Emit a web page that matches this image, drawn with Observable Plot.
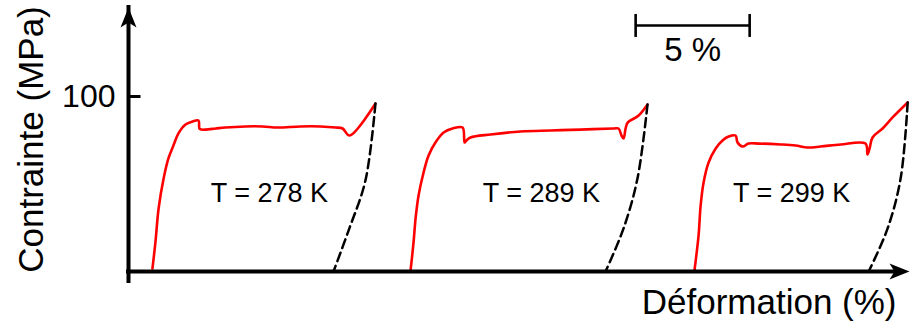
<!DOCTYPE html>
<html>
<head>
<meta charset="utf-8">
<script src="https://cdn.jsdelivr.net/npm/d3@7"></script>
<script src="https://cdn.jsdelivr.net/npm/@observablehq/plot@0.6"></script>
<style>
  html, body { margin: 0; padding: 0; background: #fff; }
  #chart { width: 910px; height: 323px; }
</style>
</head>
<body>
<div id="chart"></div>
<script>
// ---- Data (strain in %, stress in MPa) ----
const strain278 = [1.05,1.18,1.32,1.54,1.75,1.97,2.19,2.50,2.81,3.07,3.11,3.20,3.38,3.82,4.25,5.13,5.88,6.54,7.54,8.42,9.08,9.39,9.69,10.83];
const stress278 = [1.7,16.6,36.0,53.1,64.6,72.0,78.9,84.0,85.7,86.3,81.7,81.1,81.1,81.7,82.3,82.9,82.9,82.3,82.9,82.9,82.3,81.7,77.7,96.0];
const unloadStrain278 = [10.83,10.39,9.65,8.99];
const unloadStress278 = [96.0,52.0,23.4,0];

const strain289 = [12.37,12.50,12.59,12.72,12.94,13.16,13.46,13.82,14.21,14.65,14.74,14.82,15.00,15.88,17.19,18.51,19.82,21.27,21.49,21.62,21.71,21.80,21.89,22.37,22.76];
const stress289 = [0.6,16.6,30.3,43.4,56.6,66.3,73.7,79.4,81.7,82.3,73.7,74.9,76.6,78.3,80.0,80.6,81.1,81.7,81.7,77.7,76.0,81.7,85.1,89.1,95.4];
const unloadStrain289 = [22.76,22.32,21.71,20.92];
const unloadStress289 = [95.4,53.1,24.6,0];

const strain299 = [24.82,25.00,25.09,25.22,25.44,25.75,26.05,26.32,26.62,26.71,26.93,27.19,27.63,28.60,29.25,29.78,30.35,31.23,32.32,32.41,32.50,32.63,33.07,33.55,34.17];
const stress299 = [0.6,20.6,37.7,50.9,62.3,70.3,74.9,77.1,77.7,73.7,71.4,73.1,73.1,72.6,72.0,70.9,71.4,72.6,73.1,66.9,70.3,76.6,81.7,88.6,96.6];
const unloadStrain299 = [34.17,33.86,33.29,32.46];
const unloadStress299 = [96.6,53.1,24.6,0];

const labels = ["T = 278 K", "T = 289 K", "T = 299 K"];
const labelStrain = [6.18, 18.11, 29.08];
const labelStress = [40, 40, 39.5];

const yTicks = [100];
const xMax = 34.25;
const yMax = 150.86;

const scaleBarStrain = [22.24, 27.24];
const scaleBarStress = 140.6;
const scaleBarLabel = "5 %";

const xTitle = "Déformation (%)";
const yTitle = "Contrainte (MPa)";

// ---- Build tables ----
const zip = (xs, ys) => xs.map((x, i) => ({x, y: ys[i]}));
const loading = [zip(strain278, stress278), zip(strain289, stress289), zip(strain299, stress299)];
const unloading = [zip(unloadStrain278, unloadStress278), zip(unloadStrain289, unloadStress289), zip(unloadStrain299, unloadStress299)];
const labelData = labels.map((t, i) => ({t, x: labelStrain[i], y: labelStress[i]}));

// ---- Custom symbols ----
const arrowHead = {draw(ctx) { ctx.moveTo(0, 0); ctx.lineTo(8, 20); ctx.lineTo(0, 15); ctx.lineTo(-8, 20); ctx.closePath(); }};
const tickRight = {draw(ctx) { ctx.moveTo(0, 0); ctx.lineTo(12, 0); }};
const tickVert = {draw(ctx) { ctx.moveTo(0, -11.5); ctx.lineTo(0, 11.5); }};

const font = "'Liberation Sans', Arial, Helvetica, sans-serif";

const chart = Plot.plot({
  width: 910,
  height: 323,
  marginLeft: 128,
  marginRight: 1,
  marginTop: 7,
  marginBottom: 52,
  style: {fontFamily: font, background: "white", color: "black"},
  x: {domain: [0, xMax], axis: null},
  y: {domain: [0, yMax]},
  marks: [
    // loading curves
    ...loading.map(d => Plot.line(d, {x: "x", y: "y", stroke: "#ff0000", strokeWidth: 2.6, strokeLinejoin: "round", curve: "catmull-rom"})),
    // unloading (dashed)
    ...unloading.map(d => Plot.line(d, {x: "x", y: "y", stroke: "black", strokeWidth: 2.5, strokeDasharray: "9,5", curve: "catmull-rom"})),
    // axes lines
    Plot.ruleX([0], {y1: 0, y2: yMax, insetTop: 10, stroke: "black", strokeWidth: 4, strokeLinecap: "square"}),
    Plot.ruleY([0], {x1: 0, x2: xMax, insetRight: 10, stroke: "black", strokeWidth: 4, strokeLinecap: "square"}),
    Plot.dot([0], {x: 0, y: yMax, symbol: arrowHead, fill: "black", stroke: "none"}),
    Plot.dot([0], {x: xMax, y: 0, symbol: arrowHead, rotate: 90, fill: "black", stroke: "none"}),
    // y tick
    Plot.dot(yTicks, {x: 0, y: d => d, symbol: tickRight, fill: "none", stroke: "black", strokeWidth: 3}),
    Plot.axisY({ticks: yTicks, tickSize: 0, tickPadding: 13, fontSize: 32, label: null}),
    // labels
    Plot.text(labelData, {x: "x", y: "y", text: "t", fontSize: 27, lineAnchor: "bottom", textAnchor: "middle", fill: "black"}),
    // scale bar
    Plot.ruleY([scaleBarStress], {x1: scaleBarStrain[0], x2: scaleBarStrain[1], stroke: "black", strokeWidth: 2.6}),
    Plot.dot(scaleBarStrain, {x: d => d, y: scaleBarStress, symbol: tickVert, fill: "none", stroke: "black", strokeWidth: 2.6}),
    Plot.text([scaleBarLabel], {x: (scaleBarStrain[0] + scaleBarStrain[1]) / 2, y: scaleBarStress, text: d => d, dy: 36, fontSize: 33, lineAnchor: "bottom", fill: "black"}),
    // axis titles
    Plot.text([xTitle], {frameAnchor: "bottom-right", text: d => d, textAnchor: "end", lineAnchor: "bottom", dx: -13, dy: 42, fontSize: 35, fill: "black"}),
    Plot.text([yTitle], {frameAnchor: "left", text: d => d, rotate: -90, textAnchor: "middle", lineAnchor: "bottom", dx: -86, fontSize: 35, fill: "black"})
  ]
});
document.getElementById("chart").append(chart);
</script>
</body>
</html>
